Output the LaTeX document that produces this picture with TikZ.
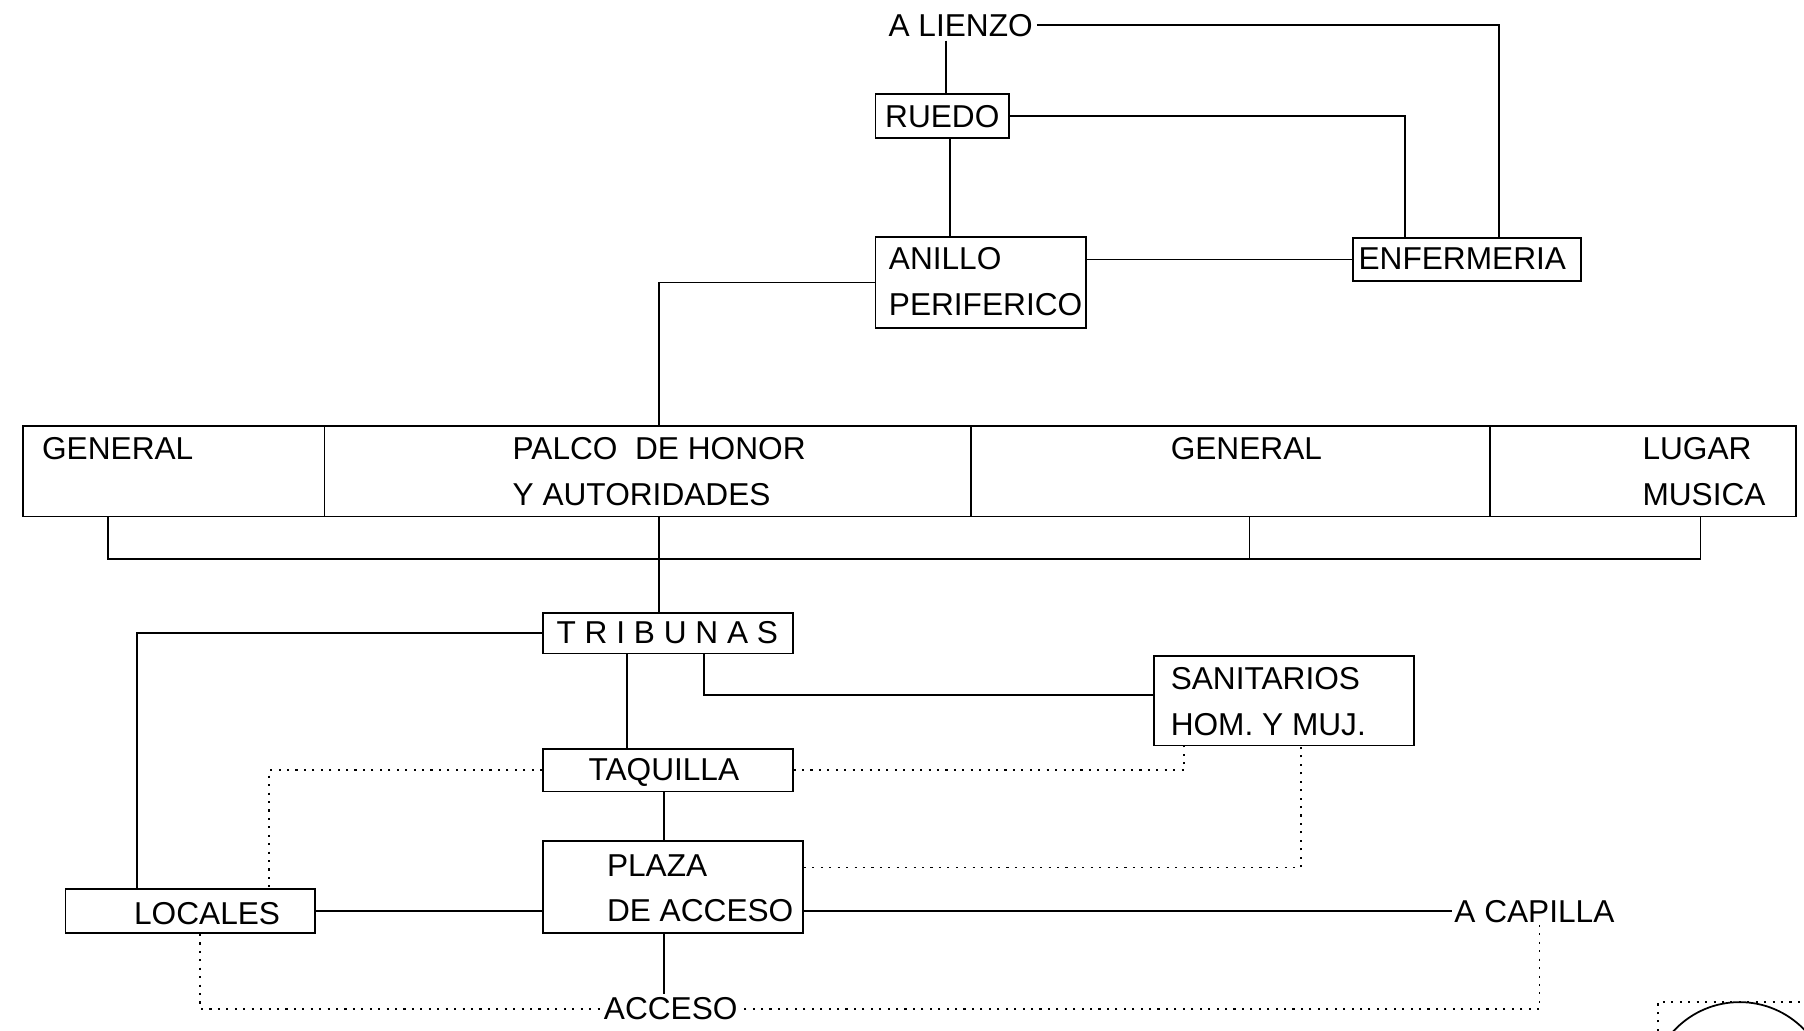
\documentclass[tikz,border=0pt]{standalone}
\usepackage{fontspec}
\setmainfont{Liberation Sans}
\usetikzlibrary{fit}
\tikzset{
  caja/.style={draw, line width=0.5pt, inner sep=0pt},
  txt/.style={inner sep=0pt, align=left},
  linea/.style={line width=0.5pt},
  punteado/.style={line width=0.5pt, dash pattern=on 0.6pt off 1.8pt},
}
\begin{document}
\begin{tikzpicture}[x=0.011505cm, y=-0.011505cm, font=\fontsize{9}{13}\selectfont]
\useasboundingbox (0,0) rectangle (1568,896);
\node[txt, inner sep=1pt] (lienzo) at (835,22) {A LIENZO};
\node[caja, fit={(761,82) (877,120)}] (ruedo) {};
\node[txt] (ruedoT) at (819,101) {RUEDO};
\node[caja, fit={(761,206) (944,285)}] (anillo) {};
\node[txt, anchor=west] (anilloT) at (772,245) {ANILLO\\PERIFERICO};
\node[caja, fit={(1176,207) (1374,244)}] (enfer) {};
\node[txt] (enferT) at (1271,225) {ENFERMERIA};
\node[caja, fit={(20,370) (282,449)}] (gen1) {};
\node[caja, fit={(282,370) (844,449)}] (palco) {};
\node[caja, fit={(844,370) (1295,449)}] (gen2) {};
\node[caja, fit={(1295,370) (1561,449)}] (lugar) {};
\node[txt, anchor=west] (gen1T) at (36,390) {GENERAL};
\node[txt, anchor=west] (palcoT) at (445,410) {PALCO~~DE HONOR\\Y AUTORIDADES};
\node[txt, anchor=west] (gen2T) at (1017,390) {GENERAL};
\node[txt, anchor=west] (lugarT) at (1427,410) {LUGAR\\MUSICA};
\node[caja, fit={(472,533) (689,568)}] (tribunas) {};
\node[txt] (tribunasT) at (580,550) {T\ R\ I\ B\ U\ N\ A\ S};
\node[caja, fit={(1003,570) (1229,648)}] (sanit) {};
\node[txt, anchor=west] (sanitT) at (1017,610) {SANITARIOS\\HOM. Y MUJ.};
\node[caja, fit={(472,651) (689,688)}] (taquilla) {};
\node[txt] (taquillaT) at (577,671) {TAQUILLA};
\node[caja, fit={(472,731) (698,811)}] (plaza) {};
\node[txt, anchor=west] (plazaT) at (527,772) {PLAZA\\DE ACCESO};
\node[caja, fit={(57,773) (274,811)}] (locales) {};
\node[txt] (localesT) at (180,794) {LOCALES};
\node[txt, anchor=west, inner sep=0.5pt] (capilla) at (1262,792) {A CAPILLA};
\node[txt, inner sep=1pt] (acceso) at (583,877) {ACCESO};
\coordinate (cA) at (822,0);
\coordinate (cB) at (826,0);
\coordinate (cC) at (1221,0);
\coordinate (cD) at (1303,0);
\coordinate (cE) at (573,0);
\coordinate (busL) at (94,486);
\coordinate (busM) at (1086,486);
\coordinate (busR) at (1478,486);
\coordinate (cF) at (119,0);
\coordinate (kG) at (612,604);
\coordinate (cH) at (545,0);
\coordinate (cI) at (234,0);
\coordinate (cJ) at (1029,0);
\coordinate (cK) at (577,0);
\coordinate (kL) at (1131,754);
\coordinate (cM) at (1338,0);
\coordinate (cN) at (174,0);
\draw[linea] (cA |- lienzo.south) -- (cA |- ruedo.north);
\draw[linea] (cB |- ruedo.south) -- (cB |- anillo.north);
\draw[linea] (ruedo.east) -| (cC |- enfer.north);
\draw[linea] (lienzo.east) -| (cD |- enfer.north);
\draw[linea] (enfer.west -| anillo.east) -- (enfer.west);
\draw[linea] (anillo.west) -| (cE |- palco.north);
\draw[linea] (cE |- palco.south) -- (cE |- tribunas.north);
\draw[linea] (busL |- gen1.south) -- (busL) -- (busR) -- (busR |- lugar.south);
\draw[linea] (busM |- gen2.south) -- (busM);
\draw[linea] (tribunas.west) -| (cF |- locales.north);
\draw[linea] (kG |- tribunas.south) -- (kG) -- (kG -| sanit.west);
\draw[linea] (cH |- tribunas.south) -- (cH |- taquilla.north);
\draw[punteado] (taquilla.west) -| (cI |- locales.north);
\draw[punteado] (taquilla.east) -| (cJ |- sanit.south);
\draw[linea] (cK |- taquilla.south) -- (cK |- plaza.north);
\draw[punteado] (kL -| plaza.east) -- (kL) -- (kL |- sanit.south);
\draw[linea] (capilla.west -| plaza.east) -- (capilla.west);
\draw[punteado] (cM |- capilla.south) |- (acceso.east);
\draw[linea] (locales.east) -- (locales.east -| plaza.west);
\draw[punteado] (cN |- locales.south) |- (acceso.west);
\draw[linea] (cK |- plaza.south) -- (cK |- acceso.north);
\begin{scope}
\clip (0,0) rectangle (1568,896);
\draw[punteado] (1441,896) -- (1441,871) -- (1568,871);
\draw[linea] (1512,949) circle (78);
\end{scope}
\end{tikzpicture}
\end{document}
